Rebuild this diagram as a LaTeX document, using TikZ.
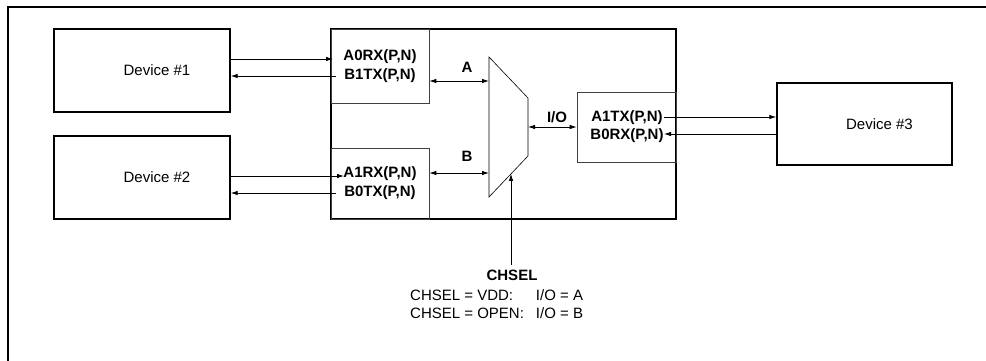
\documentclass[tikz,border=0pt]{standalone}
\usepackage{fontspec}
\setmainfont{Liberation Sans}
\usetikzlibrary{arrows.meta,calc}
\def\figfont{\fontsize{15}{18}\selectfont}
\begin{document}
\begin{tikzpicture}[x=1pt,y=-1pt,font=\figfont]
    \tikzset{device/.style = {shape = rectangle,draw=black,line width=1.4pt,inner sep = 0pt}, port/.style = {shape = rectangle,draw=black!75,line width=0.6pt,inner sep = 0pt}, sig/.style = {line width=0.8pt,-{Latex[length=7pt,width=4.5pt]}}, bus/.style = {line width=0.8pt,{Latex[length=7pt,width=4.5pt]}-{Latex[length=7pt,width=4.5pt]}}, lbl/.style = {font=\figfont\bfseries,inner sep=0pt}}
    \useasboundingbox (0,0) rectangle (986,360);
    \draw[line width=2pt] (8,7) rectangle (992,366);
    % devices
    \node[device,minimum width=176pt,minimum height=83pt,label={[xshift=15pt]center:Device \#1}] (dev1) at (142,70.5){};
    \node[device,minimum width=176pt,minimum height=83pt,label={[xshift=15pt]center:Device \#2}] (dev2) at (142,177.5){};
    \node[device,minimum width=175pt,minimum height=82pt,label={[xshift=15pt]center:Device \#3}] (dev3) at (864.5,124){};
    % chip
    \node[device,minimum width=345pt,minimum height=190pt] (chip) at (503.5,124){};
    \node[port,minimum width=98pt,minimum height=74pt] (rx1) at (380,66){};
    \node[port,minimum width=98pt,minimum height=71pt] (rx2) at (380,183.5){};
    \node[port,minimum width=99pt,minimum height=70pt] (tx) at (626.5,127){};
    \node[lbl] (a0rx) at (380,57){A0RX(P,N)};
    \node[lbl] (b1tx) at (380,76){B1TX(P,N)};
    \node[lbl] (a1rx) at (380,174){A1RX(P,N)};
    \node[lbl] (b0tx) at (380,193){B0TX(P,N)};
    \node[lbl] (a1tx) at (627,118){A1TX(P,N)};
    \node[lbl] (b0rx) at (627,136){B0RX(P,N)};
    % mux
    \coordinate (mtl) at (489,57);
    \coordinate (mtr) at (528,98);
    \coordinate (mbr) at (528,156);
    \coordinate (mbl) at (489,197);
    \draw[line width=0.6pt] (mtl) -- (mtr) -- (mbr) -- (mbl) -- cycle;
    \coordinate (ma) at (489,81);
    \coordinate (mb) at (489,173);
    \coordinate (mo) at (528,127);
    \coordinate (msel) at ($(mbl)!0.564!(mbr)$);
    \node[lbl] (la) at (467,67){A};
    \node[lbl] (lb) at (467,156){B};
    \node[lbl] (lio) at (557,117){I/O};
    \draw[bus] (rx1.east |- ma) -- (ma);
    \draw[bus] (rx2.east |- mb) -- (mb);
    \draw[bus] (mo) -- (tx.west |- mo);
    % links
    \draw[sig] (dev1.east |- 0,59) -- (333,59);
    \draw[sig] (336,76) -- (dev1.east |- 0,76);
    \draw[sig] (dev2.east |- 0,176) -- (344,176);
    \draw[sig] (336,193) -- (dev2.east |- 0,193);
    \draw[sig] (664,117) -- (dev3.west |- 0,117);
    \draw[sig] (dev3.west |- 0,134) -- (664,134);
    % select
    \coordinate (csel) at (msel |- 0,265);
    \draw[sig] (csel) -- (msel);
    \node[lbl,anchor=north] (chsel) at (512,270){CHSEL};
    \node[inner sep=0pt,anchor=north west] (tbl) at (410,288){\begin{tabular}{@{}l@{\hspace{12pt}}l@{}}CHSEL = VDD: & I/O = A\\CHSEL = OPEN: & I/O = B\end{tabular}};
\end{tikzpicture}
\end{document}
